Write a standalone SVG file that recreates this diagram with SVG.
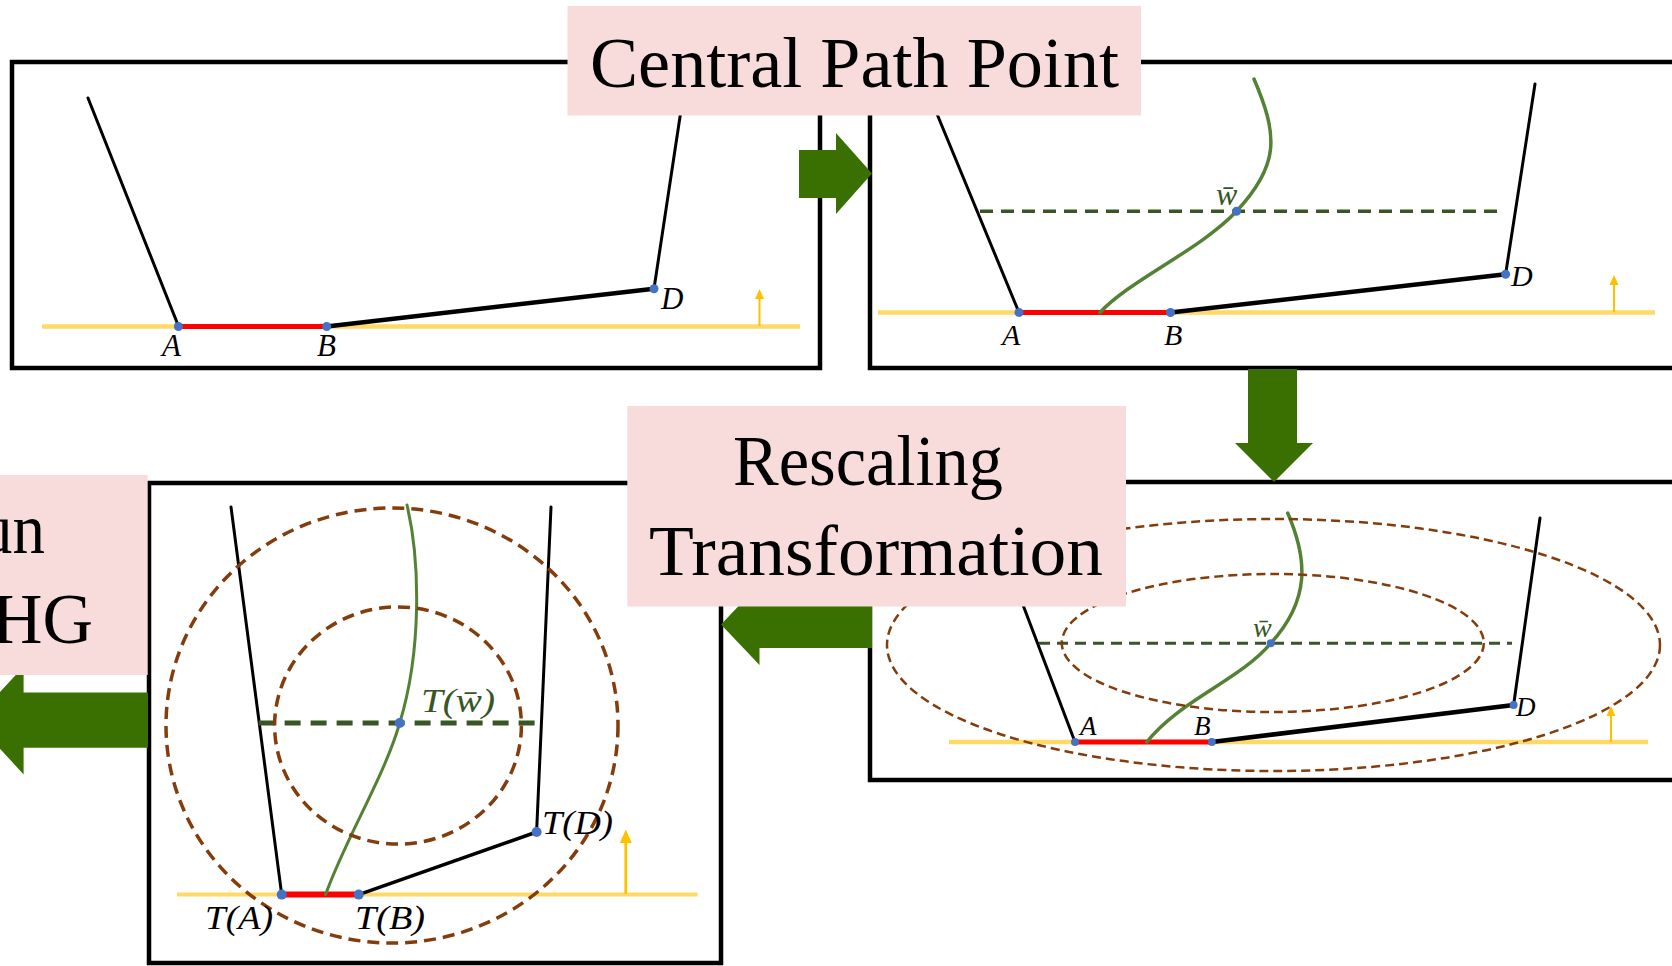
<svg xmlns="http://www.w3.org/2000/svg" width="1672" height="966" viewBox="0 0 1672 966">
<defs>
<style>
.panel{fill:none;stroke:#000;stroke-width:4.5}
.wall{fill:none;stroke:#000;stroke-width:3;stroke-linecap:round}
.bd{fill:none;stroke:#000;stroke-width:4.5;stroke-linecap:round}
.ground{fill:none;stroke:#FFD966;stroke-width:4.5}
.red{fill:none;stroke:#FF0000;stroke-width:5}
.curve{fill:none;stroke:#548235;stroke-width:3.5;stroke-linecap:round}
.dash{fill:none;stroke:#375623;stroke-width:3.5;stroke-dasharray:13 8}
.ell{fill:none;stroke:#843C0C;stroke-width:3;stroke-dasharray:11 6}
.dot{fill:#4472C4}
.up{fill:none;stroke:#FFC000;stroke-width:2}
.uph{fill:#FFC000}
.lbl{font-family:"Liberation Serif","DejaVu Serif",serif;font-style:italic;fill:#000}
.glbl{font-family:"Liberation Serif","DejaVu Serif",serif;font-style:italic;fill:#375623}
.box{fill:#F8DCDC}
.title{font-family:"Liberation Serif","Times New Roman",serif;font-size:72px;fill:#000}
.garrow{fill:#3A7002}
</style>
</defs>

<g id="panel1">
<rect class="panel" x="12" y="62" width="808" height="306"/>
<line class="ground" x1="42" y1="326.5" x2="800" y2="326.5"/>
<line class="wall" x1="88" y1="98" x2="178.4" y2="326"/>
<line class="wall" x1="683" y1="97" x2="654" y2="288.7"/>
<line class="bd" x1="326.7" y1="326.5" x2="654" y2="288.7"/>
<line class="red" x1="178.4" y1="326.5" x2="326.7" y2="326.5"/>
<line class="up" x1="759.5" y1="326" x2="759.5" y2="298"/>
<polygon class="uph" points="755,299 764,299 759.5,289"/>
<circle class="dot" cx="178.4" cy="326.5" r="4.5"/>
<circle class="dot" cx="326.7" cy="326.5" r="4.5"/>
<circle class="dot" cx="654" cy="288.7" r="4.5"/>
<text class="lbl" x="162" y="356" font-size="31">A</text>
<text class="lbl" x="317" y="356" font-size="31">B</text>
<text class="lbl" x="661" y="309" font-size="31">D</text>
</g>

<g id="panel2">
<rect class="panel" x="870" y="62" width="840" height="306"/>
<line class="ground" x1="878" y1="312.5" x2="1655" y2="312.5"/>
<line class="wall" x1="930" y1="97" x2="1019" y2="312.5"/>
<line class="wall" x1="1535" y1="84" x2="1505.6" y2="274.3"/>
<line class="bd" x1="1170.5" y1="312.5" x2="1505.6" y2="274.3"/>
<line class="red" x1="1019" y1="312.5" x2="1170.5" y2="312.5"/>
<line class="dash" x1="980" y1="211.3" x2="1504" y2="211.3"/>
<path class="curve" d="M1254,79 C1278,135 1280,165 1236.5,211.3 C1200,250 1130,280 1100,312.5"/>
<line class="up" x1="1614" y1="312" x2="1614" y2="284"/>
<polygon class="uph" points="1609.5,285 1618.5,285 1614,275"/>
<circle class="dot" cx="1019" cy="312.5" r="4.5"/>
<circle class="dot" cx="1170.5" cy="312.5" r="4.5"/>
<circle class="dot" cx="1505.6" cy="274.3" r="4.5"/>
<circle class="dot" cx="1236.5" cy="211.3" r="4.5"/>
<text class="lbl" x="1002" y="345" font-size="30">A</text>
<text class="lbl" x="1164" y="345" font-size="30">B</text>
<text class="lbl" x="1511" y="286" font-size="30">D</text>
<text class="glbl" x="1216" y="205" font-size="32">w&#x0304;</text>
</g>

<g id="panel4">
<rect class="panel" x="870" y="482" width="840" height="298"/>
<line class="ground" x1="949" y1="742" x2="1648" y2="742"/>
<line class="wall" x1="990" y1="518" x2="1075" y2="742"/>
<line class="wall" x1="1540" y1="518" x2="1513.6" y2="705"/>
<line class="bd" x1="1211.8" y1="742" x2="1513.6" y2="705"/>
<line class="red" x1="1075" y1="742" x2="1211.8" y2="742"/>
<line class="dash" x1="1039" y1="643.3" x2="1512" y2="643.3" style="stroke-width:3;stroke-dasharray:11 7"/>
<path class="curve" d="M1287.7,513 C1308,560 1310,600 1270.7,643.3 C1240,680 1180,700 1146.8,742"/>
<ellipse class="ell" cx="1273.5" cy="645" rx="386.5" ry="126" style="stroke-width:2.5;stroke-dasharray:9 5"/>
<ellipse class="ell" cx="1272.8" cy="643" rx="211" ry="69" style="stroke-width:2.5;stroke-dasharray:9 5"/>
<line class="up" x1="1611" y1="742" x2="1611" y2="715"/>
<polygon class="uph" points="1606.5,716 1615.5,716 1611,706"/>
<circle class="dot" cx="1075" cy="742" r="4"/>
<circle class="dot" cx="1211.8" cy="742" r="4"/>
<circle class="dot" cx="1513.6" cy="705" r="4"/>
<circle class="dot" cx="1270.7" cy="643.3" r="4"/>
<text class="lbl" x="1080" y="735" font-size="27">A</text>
<text class="lbl" x="1194" y="735" font-size="27">B</text>
<text class="lbl" x="1516" y="716" font-size="27">D</text>
<text class="glbl" x="1253" y="637" font-size="28">w&#x0304;</text>
</g>

<g id="panel3">
<rect class="panel" x="149" y="483" width="572" height="480"/>
<line class="ground" x1="177" y1="894.6" x2="697.5" y2="894.6" style="stroke-width:4"/>
<line class="wall" x1="231" y1="507" x2="281.7" y2="894.6"/>
<line class="wall" x1="551" y1="507" x2="536.6" y2="832"/>
<line class="wall" x1="358.7" y1="894.6" x2="536.6" y2="832" style="stroke-width:3.5"/>
<line class="red" x1="281.7" y1="894.6" x2="358.7" y2="894.6" style="stroke-width:6"/>
<line class="dash" x1="258.6" y1="723" x2="541.8" y2="723" style="stroke-width:5;stroke-dasharray:16 10"/>
<path class="curve" d="M407,505 C420,560 422,650 399.7,723 C385,775 345,840 325.6,894.6" style="stroke-width:3"/>
<ellipse class="ell" cx="392" cy="725.5" rx="226" ry="217.5" style="stroke-width:3.5;stroke-dasharray:12 7"/>
<ellipse class="ell" cx="398" cy="725.5" rx="123.4" ry="118.6" style="stroke-width:3.5;stroke-dasharray:12 7"/>
<line class="up" x1="625.8" y1="894" x2="625.8" y2="842" style="stroke-width:2.8"/>
<polygon class="uph" points="619.8,843 631.8,843 625.8,829.6"/>
<circle class="dot" cx="281.7" cy="894.6" r="5"/>
<circle class="dot" cx="358.7" cy="894.6" r="5"/>
<circle class="dot" cx="536.6" cy="832" r="5"/>
<circle class="dot" cx="399.7" cy="723" r="5"/>
<text class="lbl" x="205" y="929" font-size="34" textLength="68" lengthAdjust="spacingAndGlyphs">T(A)</text>
<text class="lbl" x="355" y="929" font-size="34" textLength="70" lengthAdjust="spacingAndGlyphs">T(B)</text>
<text class="lbl" x="542" y="834" font-size="34" textLength="71" lengthAdjust="spacingAndGlyphs">T(D)</text>
<text class="glbl" x="421" y="711.5" font-size="33" textLength="74" lengthAdjust="spacingAndGlyphs">T(w&#x0304;)</text>
</g>

<g id="connectors">
<polygon class="garrow" points="799,150 836,150 836,133 872,173.5 836,214 836,198 799,198"/>
<polygon class="garrow" points="1248,369 1297,369 1297,443 1313,443 1274,482 1235,443 1248,443"/>
<polygon class="garrow" points="872,600 759.5,600 759.5,584 721,624.5 759.5,665 759.5,648 872,648"/>
<polygon class="garrow" points="148,692.4 23.6,692.4 23.6,666.4 -26,720.4 23.6,774.4 23.6,747.7 148,747.7"/>
</g>

<g id="label-central">
<rect class="box" x="567.5" y="6" width="573.5" height="109.5"/>
<text class="title" x="590" y="87" textLength="529" lengthAdjust="spacingAndGlyphs">Central Path Point</text>
</g>

<g id="label-rescaling">
<rect class="box" x="627.3" y="406" width="498.7" height="200.5"/>
<text class="title" x="733" y="485" textLength="270" lengthAdjust="spacingAndGlyphs">Rescaling</text>
<text class="title" x="649" y="575" textLength="454" lengthAdjust="spacingAndGlyphs">Transformation</text>
</g>

<g id="label-run">
<rect class="box" x="-5" y="475" width="152.7" height="200"/>
<text class="title" x="-20" y="553" textLength="65" lengthAdjust="spacingAndGlyphs">un</text>
<text class="title" x="-8" y="643" textLength="101" lengthAdjust="spacingAndGlyphs">HG</text>
</g>
</svg>
